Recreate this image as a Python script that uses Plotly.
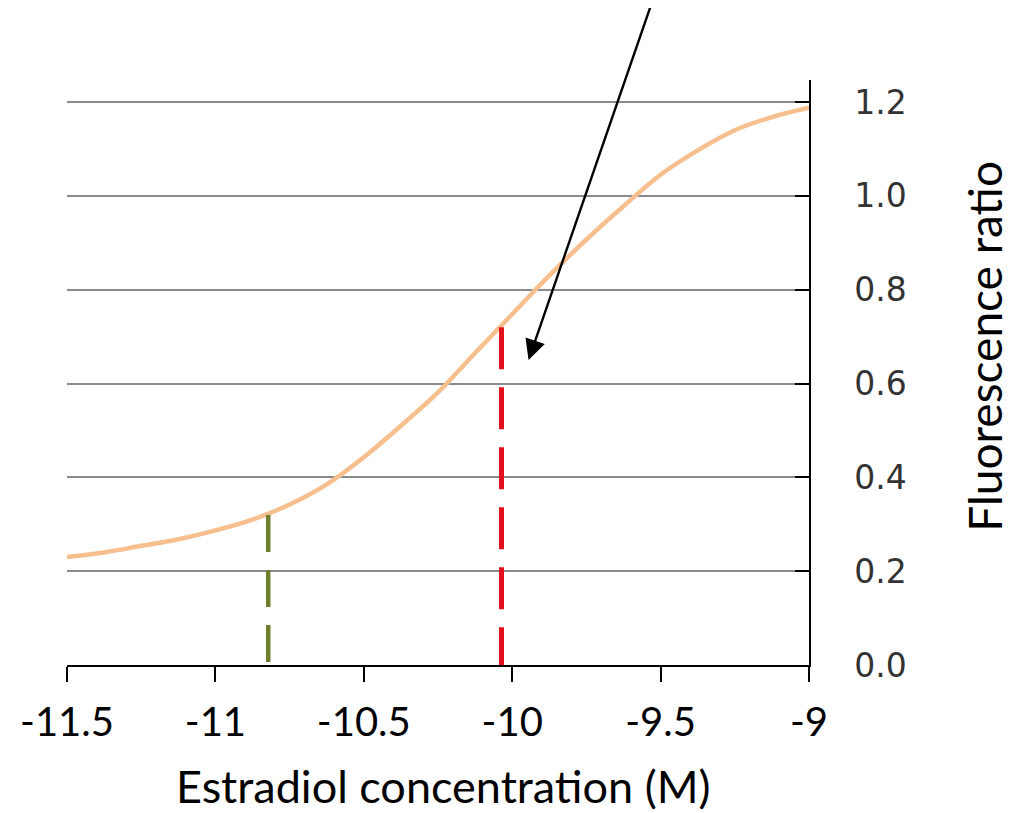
import plotly.graph_objects as go

# Curve data (log10 estradiol concentration vs fluorescence ratio)
curve_x = [-11.5, -11.375, -11.25, -11.125, -11.0, -10.875, -10.75, -10.625, -10.5,
           -10.375, -10.25, -10.125, -10.0, -9.875, -9.75, -9.625, -9.5, -9.375,
           -9.25, -9.125, -9.0]
curve_y = [0.230, 0.240, 0.254, 0.268, 0.287, 0.310, 0.342, 0.385, 0.443,
           0.510, 0.581, 0.665, 0.748, 0.830, 0.907, 0.978, 1.045, 1.097,
           1.140, 1.168, 1.188]

# Marker lines
green_x = -10.822
green_top = 0.32
red_x = -10.036
red_top = 0.72

x_ticks = [-11.5, -11, -10.5, -10, -9.5, -9]
x_ticktext = ["-11.5", "-11", "-10.5", "-10", "-9.5", "-9"]
y_ticks = [0.0, 0.2, 0.4, 0.6, 0.8, 1.0, 1.2]
y_ticktext = ["0.0", "0.2", "0.4", "0.6", "0.8", "1.0", "1.2"]

# Arrow (tail -> tip) in data coordinates
arrow_tail = (-9.530, 1.411)
arrow_tip = (-9.945, 0.650)

x_title = "Estradiol concentration (M)"
y_title = "Fluorescence ratio"

TITLE_FONT = "Lato, Carlito, Calibri, sans-serif"

fig = go.Figure()

fig.add_trace(go.Scatter(
    x=curve_x, y=curve_y, mode="lines",
    line=dict(color="#F7BF8E", width=4.5, shape="spline"),
    showlegend=False, hoverinfo="skip"))

fig.add_trace(go.Scatter(
    x=[green_x, green_x], y=[green_top, 0], mode="lines",
    line=dict(color="#6E7F2E", width=4.5, dash="37px,18px"),
    showlegend=False, hoverinfo="skip"))

fig.add_trace(go.Scatter(
    x=[red_x, red_x], y=[red_top, 0], mode="lines",
    line=dict(color="#E3101C", width=5, dash="42px,18px"),
    showlegend=False, hoverinfo="skip"))

fig.add_annotation(
    x=arrow_tip[0], y=arrow_tip[1], ax=arrow_tail[0], ay=arrow_tail[1],
    xref="x", yref="y", axref="x", ayref="y",
    showarrow=True, arrowhead=2, arrowsize=1.7, arrowwidth=2.4,
    arrowcolor="black", text="")

fig.add_annotation(
    x=0.507, y=-0.207, xref="paper", yref="paper",
    text=x_title, showarrow=False, xanchor="center", yanchor="middle",
    font=dict(family=TITLE_FONT, size=45, color="black"))

fig.add_annotation(
    x=1.236, y=0.5444, xref="paper", yref="paper",
    text=y_title, showarrow=False, textangle=-90,
    xanchor="center", yanchor="middle",
    font=dict(family=TITLE_FONT, size=46, color="black"))

fig.update_layout(
    width=1004, height=805,
    paper_bgcolor="white", plot_bgcolor="white",
    margin=dict(l=59, r=203, t=72, b=148),
    xaxis=dict(
        range=[-11.5, -9], tickvals=x_ticks, ticktext=x_ticktext,
        showgrid=False, zeroline=False,
        showline=True, linecolor="black", linewidth=1.5,
        ticks="outside", ticklen=15, tickwidth=1.5, tickcolor="black",
        ticklabelstandoff=6,
        tickfont=dict(family=TITLE_FONT, size=40, color="black")),
    yaxis=dict(
        range=[0, 1.247], tickvals=y_ticks, ticktext=y_ticktext,
        side="right",
        showgrid=True, gridcolor="#8a8a8a", gridwidth=1.5, zeroline=False,
        showline=True, linecolor="black", linewidth=1.5,
        ticks="inside", ticklen=14, tickwidth=1.5, tickcolor="black",
        ticklabelstandoff=37,
        tickfont=dict(family="DejaVu Sans, Verdana, sans-serif", size=33, color="#333333")),
)

fig.write_html("out.html")
